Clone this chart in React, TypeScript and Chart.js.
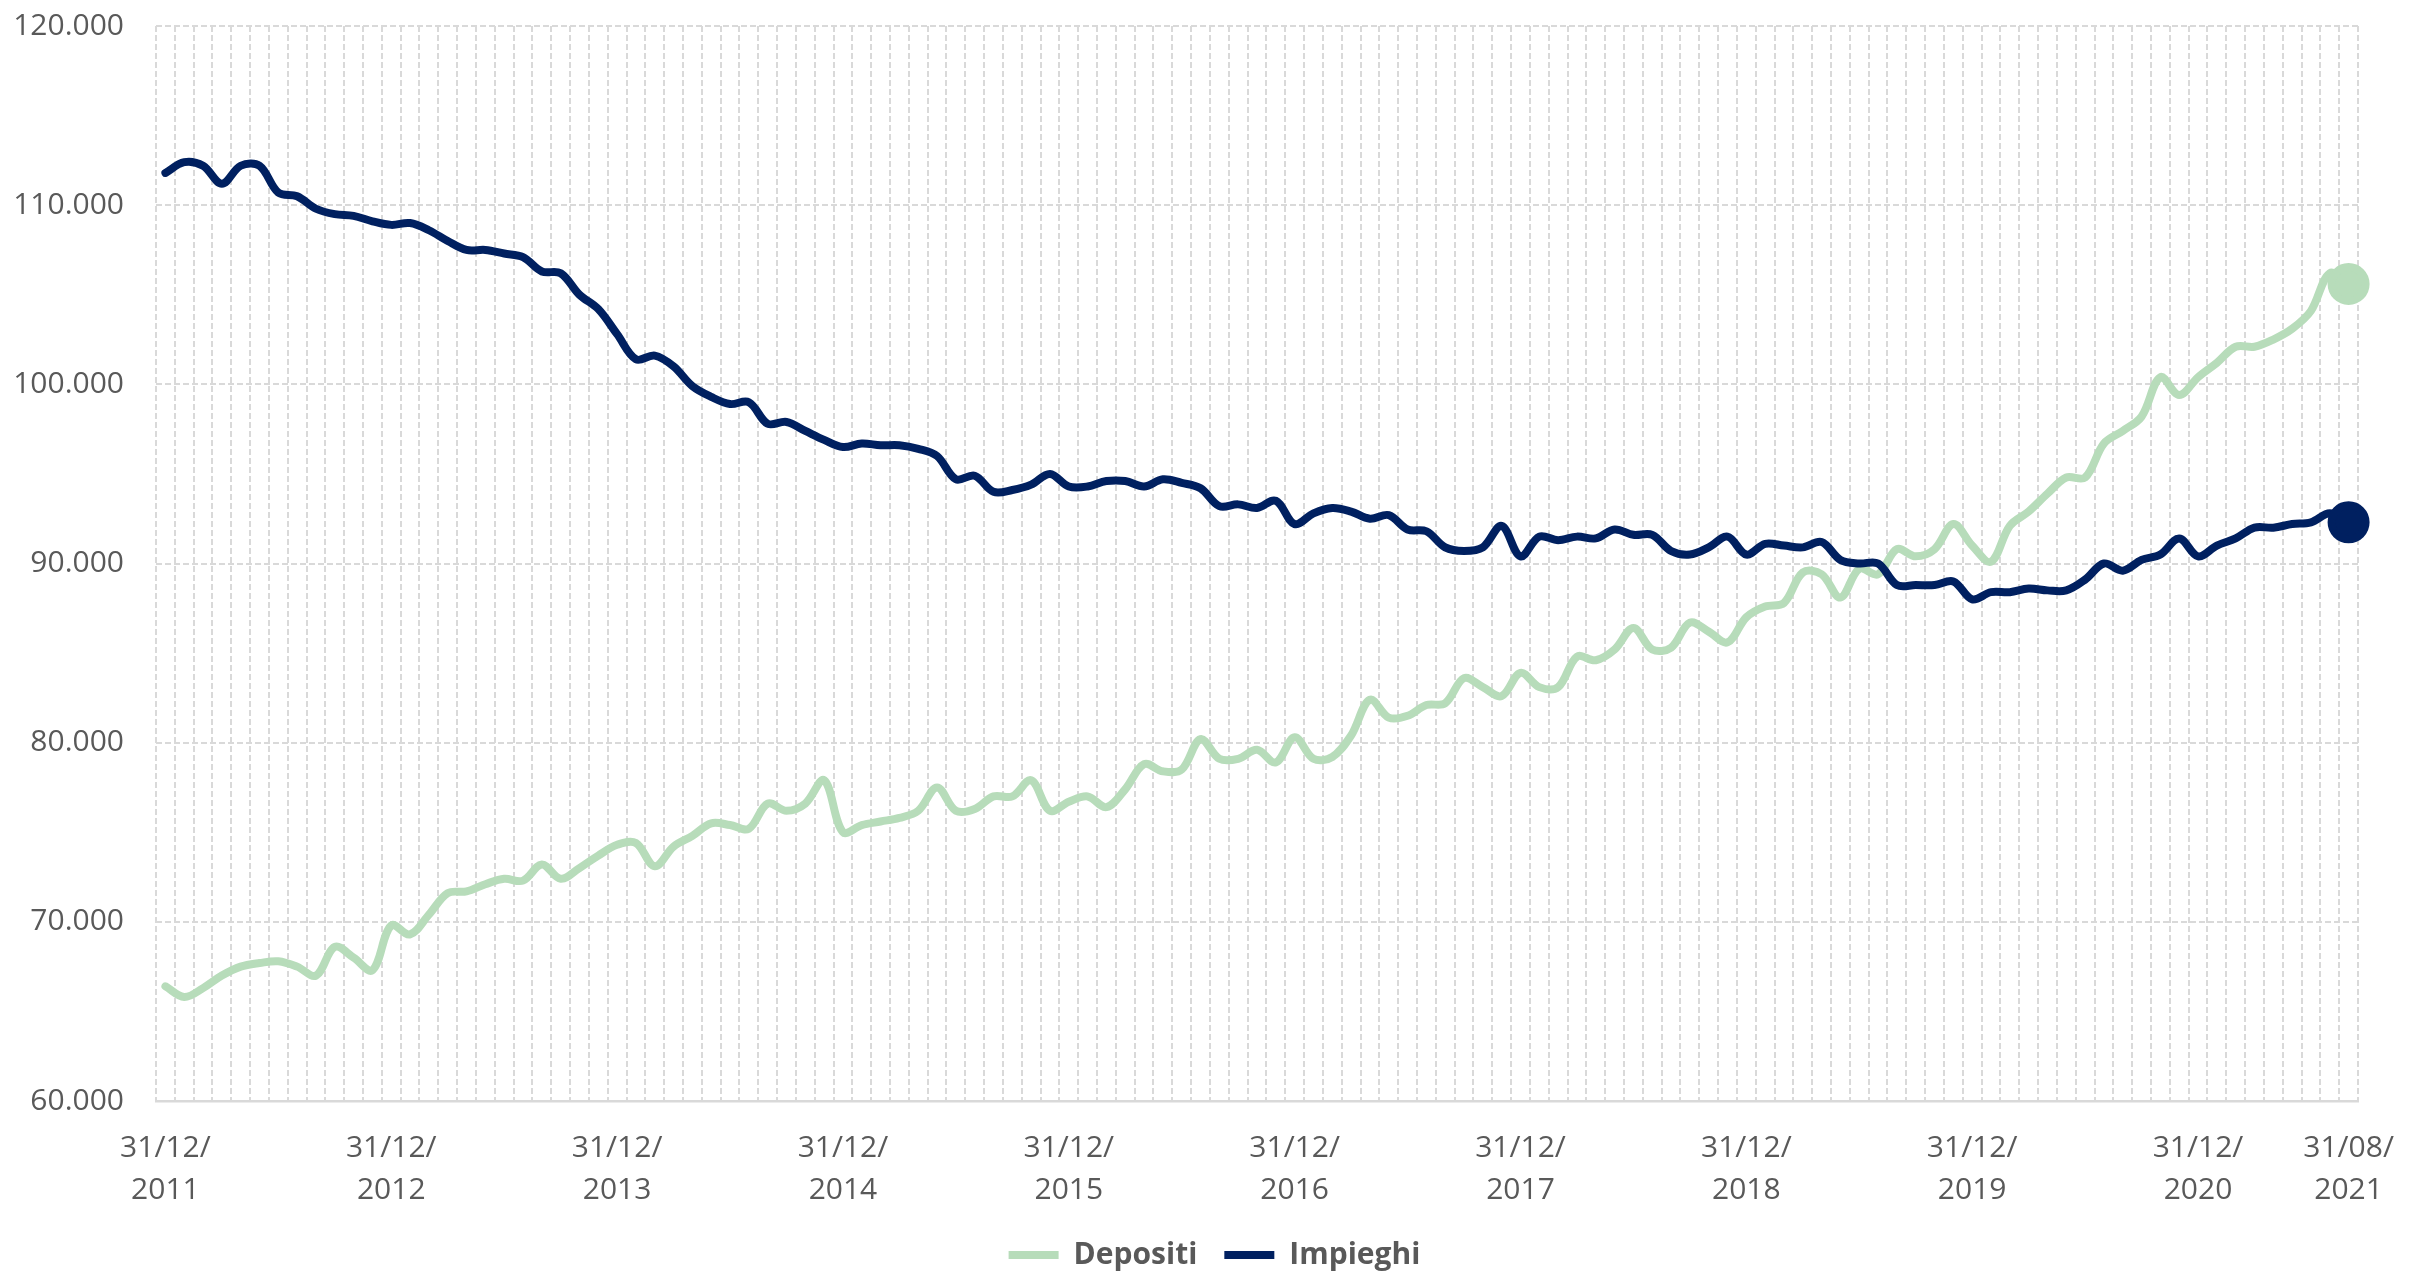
import React, { useEffect, useRef } from "react";
import { Chart, registerables } from "chart.js";

Chart.register(...registerables);

// Monthly balances (end of month), from 31/12/2011 to 31/08/2021
const depositi: number[] = [
  66400, 65800, 66300, 67000, 67500, 67700, 67800, 67500, 67000, 68600, 68000, 67300,
  69800, 69300, 70400, 71600, 71700, 72100, 72400, 72300, 73200, 72400, 73000, 73700,
  74300, 74400, 73100, 74200, 74800, 75500, 75400, 75200, 76600, 76200, 76600, 77900,
  75000, 75400, 75600, 75800, 76200, 77500, 76200, 76300, 77000, 77000, 77900, 76200,
  76700, 77000, 76400, 77400, 78800, 78400, 78500, 80200, 79100, 79100, 79600, 78900,
  80300, 79100, 79200, 80400, 82400, 81400, 81500, 82100, 82200, 83600, 83100, 82600,
  83900, 83100, 83100, 84800, 84600, 85200, 86400, 85200, 85300, 86700, 86200, 85600,
  87000, 87600, 87800, 89500, 89400, 88100, 89700, 89400, 90800, 90400, 90800, 92200,
  91000, 90100, 92100, 92900, 93900, 94800, 94800, 96700, 97400, 98200, 100400, 99400,
  100400, 101200, 102100, 102100, 102500, 103100, 104100, 106200, 105600,
];

const impieghi: number[] = [
  111800, 112400, 112200, 111200, 112200, 112200, 110700, 110500, 109800, 109500, 109400, 109100,
  108900, 109000, 108600, 108000, 107500, 107500, 107300, 107100, 106300, 106200, 105000, 104200,
  102800, 101400, 101600, 101000, 99900, 99300, 98900, 99000, 97800, 97900, 97400, 96900,
  96500, 96700, 96600, 96600, 96400, 96000, 94700, 94900, 94000, 94100, 94400, 95000,
  94300, 94300, 94600, 94600, 94300, 94700, 94500, 94200, 93200, 93300, 93100, 93500,
  92200, 92800, 93100, 92900, 92500, 92700, 91900, 91800, 90900, 90700, 90900, 92100,
  90400, 91500, 91300, 91500, 91400, 91900, 91600, 91600, 90700, 90500, 90900, 91500,
  90500, 91100, 91000, 90900, 91200, 90200, 90000, 90000, 88800, 88800, 88800, 89000,
  88000, 88400, 88400, 88600, 88500, 88500, 89100, 90000, 89600, 90200, 90500, 91400,
  90400, 91000, 91400, 92000, 92000, 92200, 92300, 92800, 92300,
];

// Month-end dates used as categories
const firstYear = 2011;
const firstMonth = 12;
const monthEnds = [31, 28, 31, 30, 31, 30, 31, 31, 30, 31, 30, 31];

function monthEnd(year: number, month: number): string {
  let d = monthEnds[month - 1];
  if (month === 2 && year % 4 === 0) d = 29;
  const dd = String(d).padStart(2, "0");
  const mm = String(month).padStart(2, "0");
  return `${dd}/${mm}/${year}`;
}

const categories: string[] = depositi.map((_, i) => {
  const m0 = firstMonth - 1 + i;
  return monthEnd(firstYear + Math.floor(m0 / 12), (m0 % 12) + 1);
});

const yTicks = { min: 60000, max: 120000, step: 10000 };

const GREEN = "#b7dcba";
const NAVY = "#002060";
const TEXT = "#595959";
const GRID = "#d9d9d9";
const FONT = "'Open Sans', 'Noto Sans', sans-serif";
const LINE_W = 8;
const GRID_DASH = [6, 3];

function formatThousands(v: number): string {
  return Math.round(v)
    .toString()
    .replace(/\B(?=(\d{3})+(?!\d))/g, ".");
}

export default function App() {
  const canvasRef = useRef<HTMLCanvasElement | null>(null);

  useEffect(() => {
    document.body.style.margin = "0";
    const canvas = canvasRef.current;
    if (!canvas) return;
    const last = categories.length - 1;
    // only the latest month carries a marker
    const endPoint = (ctx: any) => (ctx.dataIndex === last ? 17 : 0);

    const lineStyle = (color: string) => ({
      borderColor: color,
      backgroundColor: color,
      pointBackgroundColor: color,
      pointBorderColor: color,
      borderWidth: LINE_W,
      pointBorderWidth: LINE_W,
      borderCapStyle: "round",
      borderJoinStyle: "round",
      tension: 0.35,
      pointRadius: endPoint,
      pointHoverRadius: endPoint,
    });

    const chart = new Chart(canvas, {
      type: "line",
      data: {
        labels: categories,
        datasets: [
          { label: "Depositi", data: depositi, ...lineStyle(GREEN), order: 1 },
          { label: "Impieghi", data: impieghi, ...lineStyle(NAVY), order: 0 },
        ],
      },
      options: {
        animation: false,
        responsive: true,
        maintainAspectRatio: false,
        layout: { padding: { top: 26, right: 0, left: 0, bottom: -7 } },
        plugins: {
          tooltip: { enabled: false },
          legend: {
            position: "bottom",
            labels: {
              usePointStyle: true,
              pointStyle: "line",
              pointStyleWidth: 50,
              padding: 27,
              color: TEXT,
              font: { family: FONT, size: 30, weight: "bold" },
              sort: (a: any, b: any) => a.datasetIndex - b.datasetIndex,
            },
          },
        },
        scales: {
          x: {
            offset: true,
            grid: {
              offset: true,
              color: GRID,
              lineWidth: 2,
              drawTicks: false,
            },
            border: { display: true, color: GRID, width: 2.5, dash: GRID_DASH },
            afterFit: (scale: any) => {
              scale.height = 112;
            },
            ticks: {
              autoSkip: false,
              maxRotation: 0,
              minRotation: 0,
              padding: 26,
              color: TEXT,
              font: { family: FONT, size: 30, lineHeight: 1.4 },
              callback: function (this: any, value: any, index: number) {
                const label: string = this.getLabelForValue(value);
                if (label.slice(3, 5) === "12" || index === last) {
                  return [label.slice(0, 6), label.slice(6)];
                }
                return "";
              },
            },
          },
          y: {
            min: yTicks.min,
            max: yTicks.max,
            grid: {
              color: GRID,
              lineWidth: 2,
              drawTicks: false,
            },
            border: { display: false, dash: GRID_DASH },
            afterFit: (scale: any) => {
              scale.width = 156;
              // the label gap is horizontal only
              scale.paddingTop = 0;
              scale.paddingBottom = 0;
            },
            ticks: {
              stepSize: yTicks.step,
              padding: 32,
              color: TEXT,
              font: { family: FONT, size: 30 },
              callback: (v: any) => formatThousands(Number(v)),
            },
          },
          // empty right-hand strip keeping the plot clear of the edge
          spacer: {
            type: "linear",
            position: "right",
            grid: { display: false, drawTicks: false },
            border: { display: false },
            ticks: { display: false },
            afterFit: (scale: any) => {
              scale.width = 71;
            },
          },
        },
      },
    } as any);

    return () => chart.destroy();
  }, []);

  return (
    <div style={{ position: "relative", width: "2429px", height: "1273px" }}>
      <canvas ref={canvasRef} />
    </div>
  );
}
